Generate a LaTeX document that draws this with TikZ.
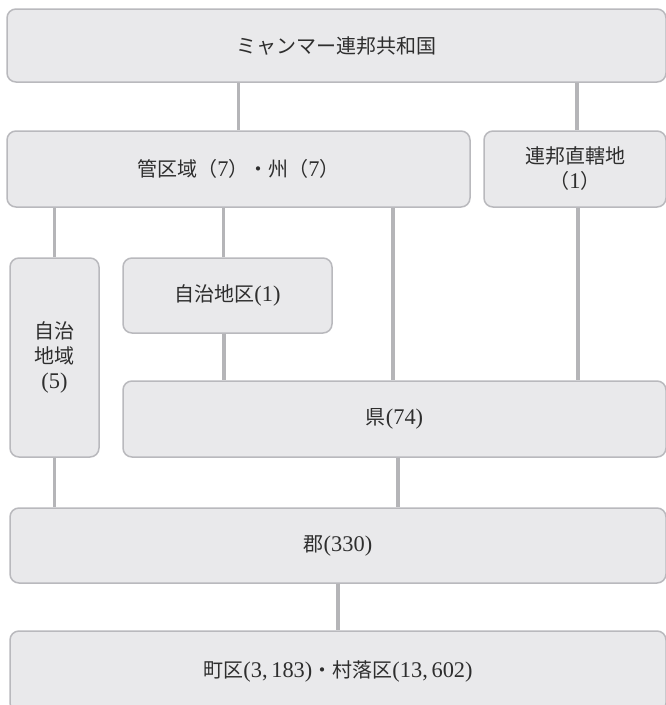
\documentclass[tikz,border=0pt]{standalone}
\usepackage{fontspec}
\setmainfont{Liberation Serif}[Scale=1.12]
\newfontfamily\jp{Noto Sans CJK JP}
\newcommand\J[1]{{\jp #1}}
\definecolor{boxfill}{HTML}{E9E9EB}
\definecolor{boxline}{HTML}{B9B9BD}
\definecolor{connc}{HTML}{B5B5B8}
\definecolor{txt}{HTML}{2E2E2E}
\begin{document}
\begin{tikzpicture}[x=1pt,y=-1pt,
  box/.style={draw=boxline, fill=boxfill, line width=1.5pt, rounded corners=9pt,
    text=txt, font=\fontsize{20}{25}\selectfont, align=center, inner sep=0pt},
  conn/.style={draw=connc, line width=3.2pt}]
\useasboundingbox (0,0) rectangle (666,705);
\node[box, minimum width=659pt, minimum height=73pt] (top) at (336.5,45.5) {\J{ミャンマー連邦共和国}};
\node[box, minimum width=463pt, minimum height=76pt] (kan) at (238.5,169) {\J{管区域（}7\J{）・州（}7\J{）}};
\node[box, minimum width=182pt, minimum height=76pt] (ren) at (575,169) {\J{連邦直轄地}\\\J{（}1\J{）}};
\node[box, minimum width=89pt, minimum height=199pt] (jichi) at (54.5,357.5) {\J{自治}\\\J{地域}\\(5)};
\node[box, minimum width=209pt, minimum height=75pt] (jk) at (227.5,295.5) {\J{自治地区}(1)};
\node[box, minimum width=543pt, minimum height=76pt] (ken) at (394.5,419) {\J{県}(74)};
\node[box, minimum width=656pt, minimum height=75pt] (gun) at (338,545.5) {\J{郡}(330)};
\node[box, minimum width=656pt, minimum height=81pt] (cho) at (338,671.5) {\J{町区}(3,\,183)\J{・村落区}(13,\,602)};
% connectors
\draw[conn] (kan.north) -- (kan.north |- top.south);
\path ([xshift=2pt]ren.north) coordinate (r1);
\draw[conn] (r1) -- (r1 |- top.south);
\draw[conn] (jichi.north) -- (jichi.north |- kan.south);
\path ([xshift=-4pt]jk.north) coordinate (k1);
\draw[conn] (k1) -- (k1 |- kan.south);
\path ([xshift=-1.5pt]ken.north) coordinate (k2);
\draw[conn] (k2) -- (k2 |- kan.south);
\path ([xshift=3pt]ren.south) coordinate (r2);
\draw[conn] (r2) -- (r2 |- ken.north);
\path ([xshift=-3.5pt]jk.south) coordinate (k3);
\draw[conn] (k3) -- (k3 |- ken.north);
\draw[conn] (jichi.south) -- (jichi.south |- gun.north);
\path ([xshift=3.5pt]ken.south) coordinate (k4);
\draw[conn] (k4) -- (k4 |- gun.north);
\draw[conn] (gun.south) -- (gun.south |- cho.north);
\end{tikzpicture}
\end{document}
